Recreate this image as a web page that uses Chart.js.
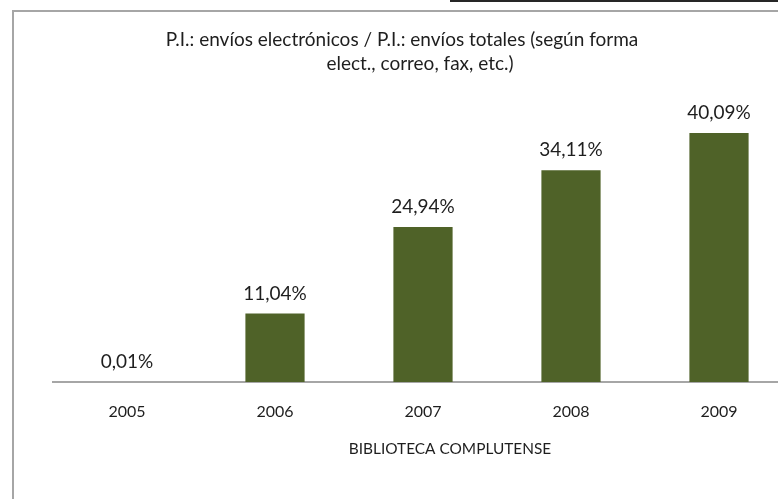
<!DOCTYPE html>
<html>
<head>
<meta charset="utf-8">
<script src="https://cdn.jsdelivr.net/npm/chart.js@4"></script>
<style>
  html, body { margin: 0; padding: 0; background: #fff; overflow: hidden; }
  body { width: 778px; height: 499px; position: relative; }
  /* chart frame and the edge of the box above it */
  #frame { position: absolute; left: 12px; top: 10px; width: 820px; height: 540px; border-top: 2px solid #a6a6a6; border-left: 2px solid #a6a6a6; }
  #edge { position: absolute; left: 450px; top: 0; width: 340px; height: 2px; background: #262626; }
  #chart { position: absolute; left: 0; top: 0; }
</style>
</head>
<body>
<div id="edge"></div>
<div id="frame"></div>
<canvas id="chart" width="840" height="499"></canvas>
<script>
// ========== DATA ==========
const years = ['2005', '2006', '2007', '2008', '2009'];
const shares = [0.01, 11.04, 24.94, 34.11, 40.09]; // % electronic submissions
const titleLines = [
  'P.I.: envíos electrónicos / P.I.: envíos totales (según forma',
  'elect., correo, fax, etc.)'
];
const axisTitle = 'BIBLIOTECA COMPLUTENSE';

const FONT = 'Lato, "Open Sans", sans-serif';
const TEXT = '#1e1e1e';

function pct(v) {
  return v.toFixed(2).replace('.', ',') + '%';
}

// title, axis title and value labels drawn on the canvas
const textPlugin = {
  id: 'chartText',
  afterDatasetsDraw(chart) {
    const ctx = chart.ctx;
    ctx.save();
    ctx.fillStyle = TEXT;
    ctx.textAlign = 'center';
    ctx.textBaseline = 'middle';

    ctx.font = '19px ' + FONT;
    chart.getDatasetMeta(0).data.forEach((bar, i) => {
      ctx.fillText(pct(shares[i]), bar.x, bar.y - 20);
    });

    ctx.font = '19px ' + FONT;
    ctx.fillText(titleLines[0], 402, 40);
    ctx.fillText(titleLines[1], 420, 64);

    ctx.font = '15.4px ' + FONT;
    ctx.fillText(axisTitle, 450, 449);
    ctx.restore();
  }
};

new Chart(document.getElementById('chart').getContext('2d'), {
  type: 'bar',
  data: {
    labels: years,
    datasets: [{
      data: shares,
      backgroundColor: '#4f6228',
      borderWidth: 0,
      categoryPercentage: 0.8,
      barPercentage: 0.5
    }]
  },
  options: {
    responsive: false,
    animation: false,
    devicePixelRatio: 1,
    layout: { padding: { left: 53, right: 47, top: 102.5, bottom: 57.8 } },
    plugins: {
      legend: { display: false },
      title: { display: false },
      tooltip: { enabled: false }
    },
    scales: {
      x: {
        grid: { display: false, drawTicks: false },
        border: { display: true, color: '#a6a6a6', width: 2 },
        ticks: { color: TEXT, padding: 20, font: { family: FONT, size: 16 } }
      },
      y: {
        display: false,
        min: 0,
        max: 45
      }
    }
  },
  plugins: [textPlugin]
});
</script>
</body>
</html>
